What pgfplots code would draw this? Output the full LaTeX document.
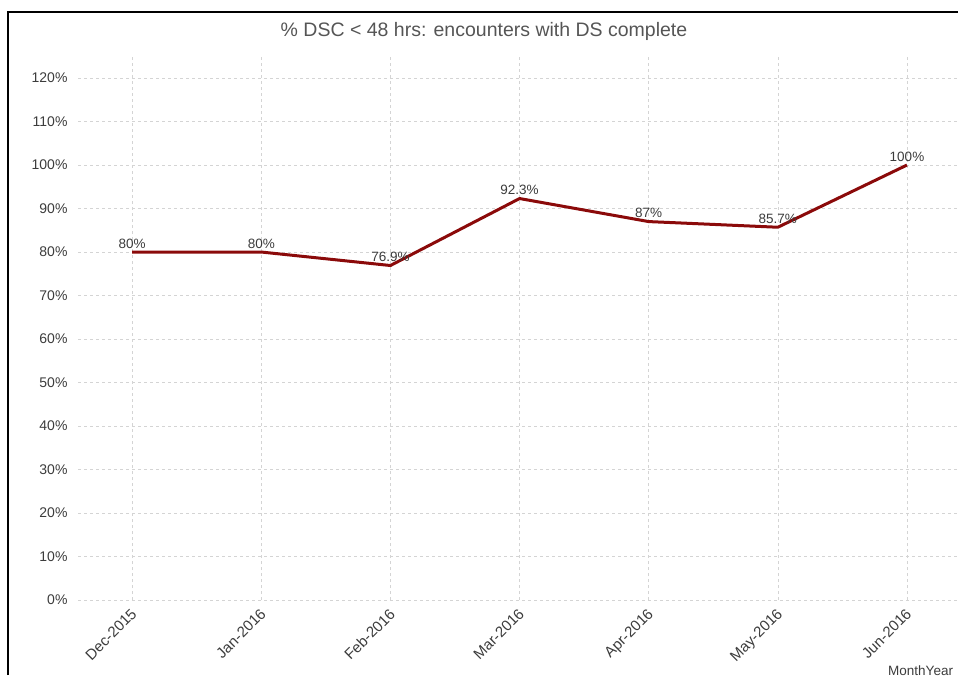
\documentclass[border=0pt]{standalone}
\usepackage{pgfplots}
\pgfplotsset{compat=1.18}
\usepackage{fontspec}
\setmainfont{Liberation Sans}
\definecolor{linered}{RGB}{139,10,10}
\definecolor{gridgray}{RGB}{212,212,212}
\definecolor{txtgray}{RGB}{60,60,60}
\definecolor{titlegray}{RGB}{85,85,85}
\begin{document}
\begin{tikzpicture}[x=1pt,y=1pt]
\useasboundingbox (0,0) rectangle (958,675);
\draw[black, line width=2pt] (8,0) -- (8,663) -- (958,663);
\node[text=titlegray, font=\fontsize{19.5}{22}\selectfont] at (484,644) {\% DSC < 48 hrs: encounters with DS complete};
\node[text=txtgray, font=\fontsize{13.5}{16}\selectfont, anchor=north west, inner sep=0pt] at (888,9) {MonthYear};
\begin{axis}[
  at={(78pt,75pt)}, anchor=south west,
  scale only axis, width=880pt, height=545pt,
  xmin=-0.419, xmax=6.395, ymin=0, ymax=125.3,
  axis line style={draw=none},
  major tick length=0pt,
  xtick={0,1,2,3,4,5,6},
  xticklabels={Dec-2015,Jan-2016,Feb-2016,Mar-2016,Apr-2016,May-2016,Jun-2016},
  ytick={0,10,...,120},
  yticklabel={\pgfmathprintnumber{\tick}\%},
  /pgf/number format/assume math mode=true,
  xmajorgrids, ymajorgrids,
  major grid style={gridgray, dashed, line width=0.6pt},
  tick label style={text=txtgray, font=\fontsize{14}{16}\selectfont},
  x tick label style={anchor=north east, inner sep=1pt, yshift=-6pt, xshift=-2pt, rotate=45, font=\fontsize{15}{17}\selectfont},
  y tick label style={xshift=-7pt},
  clip=false,
]
\addplot[linered, line width=3pt, line join=round,
  nodes near coords={\pgfmathprintnumber{\pgfplotspointmeta}\%},
  every node near coord/.append style={anchor=south, yshift=1pt, inner sep=1pt, text=txtgray, font=\fontsize{13.5}{15}\selectfont}]
coordinates {(0,80) (1,80) (2,76.9) (3,92.3) (4,87) (5,85.7) (6,100)};
\end{axis}
\end{tikzpicture}
\end{document}
